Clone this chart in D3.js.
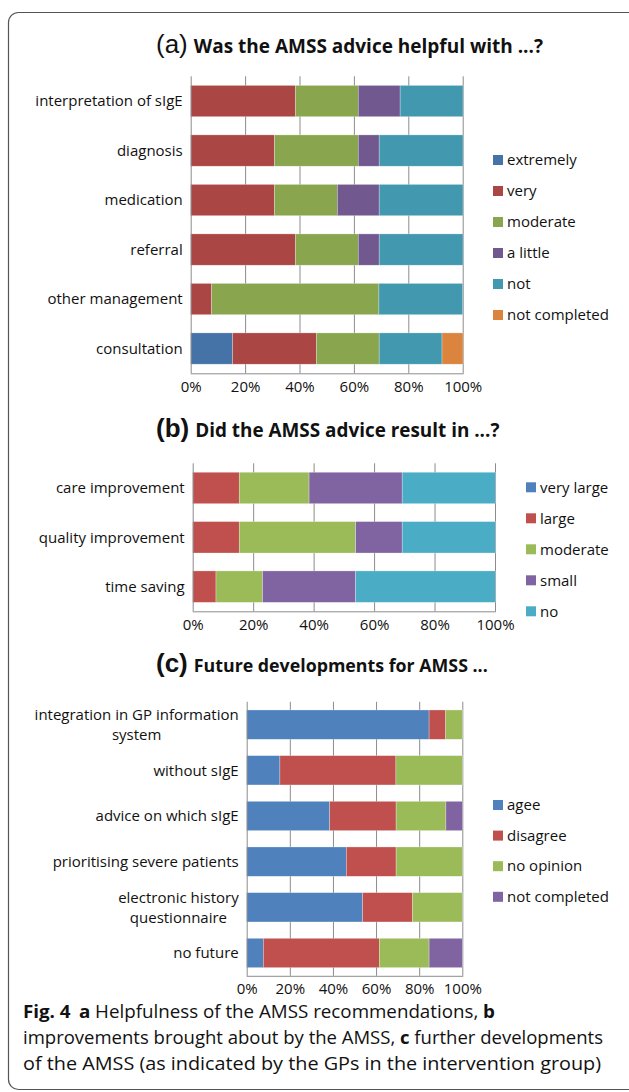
<!DOCTYPE html>
<html>
<head>
<meta charset="utf-8">
<script src="https://cdn.jsdelivr.net/npm/d3@7"></script>
<style>
  body { margin: 0; background: #fff; }
  text { font-family: "Open Sans", sans-serif; fill: #111; }
</style>
</head>
<body>
<svg id="chart" width="629" height="1092"></svg>
<script>
// panel (a)
const catsA = ["interpretation of sIgE", "diagnosis", "medication", "referral", "other management", "consultation"]
const keysA = ["extremely", "very", "moderate", "a little", "not", "not completed"]
const extremelyA = [0, 0, 0, 0, 0, 15.4]
const veryA = [38.5, 30.8, 30.8, 38.5, 7.7, 30.8]
const moderateA = [23.1, 30.8, 23.1, 23.1, 61.5, 23.1]
const littleA = [15.4, 7.7, 15.4, 7.7, 0, 0]
const notA = [23.1, 30.8, 30.8, 30.8, 30.8, 23.1]
const notCompletedA = [0, 0, 0, 0, 0, 7.7]

// panel (b)
const catsB = ["care improvement", "quality improvement", "time saving"]
const keysB = ["very large", "large", "moderate", "small", "no"]
const veryLargeB = [0, 0, 0]
const largeB = [15.4, 15.4, 7.7]
const moderateB = [23.1, 38.5, 15.4]
const smallB = [30.8, 15.4, 30.8]
const noB = [30.8, 30.8, 46.2]

// panel (c)
const catsC = ["integration in GP information\nsystem", "without sIgE", "advice on which sIgE",
  "prioritising severe patients", "electronic history\nquestionnaire", "no future"]
const keysC = ["agee", "disagree", "no opinion", "not completed"]
const agreeC = [84.6, 15.4, 38.5, 46.2, 53.8, 7.7]
const disagreeC = [7.7, 53.8, 30.8, 23.1, 23.1, 53.8]
const noOpinionC = [7.7, 30.8, 23.1, 30.8, 23.1, 23.1]
const notCompletedC = [0, 0, 7.7, 0, 0, 15.4]

const ticks = [0, 20, 40, 60, 80, 100]

const colorsA = ["#4572a7", "#aa4643", "#89a54e", "#71588f", "#4198af", "#db843d"]
const colorsBC = ["#4f81bd", "#c0504d", "#9bbb59", "#8064a2", "#4bacc6"]

const svg = d3.select("#chart")

// frame
svg.append("rect")
  .attr("x", 8.5).attr("y", 12.5)
  .attr("width", 640).attr("height", 1077)
  .attr("rx", 10)
  .attr("fill", "none")
  .attr("stroke", "#555")
  .attr("stroke-width", 1.2)

function drawPanel(p) {
  const rows = p.cats.map((c, i) => {
    const r = { cat: c }
    p.keys.forEach((k, j) => r[k] = p.series[j][i])
    return r
  })
  const stacked = d3.stack().keys(p.keys)(rows)

  const x = d3.scaleLinear().domain([0, 100]).range([p.x0, p.x1])
  const y = d3.scaleBand().domain(p.cats).range([p.y0, p.y1]).paddingInner(p.pad).paddingOuter(p.pad / 2)

  const g = svg.append("g")

  // gridlines
  g.selectAll(".grid").data(ticks.slice(1)).enter().append("line")
    .attr("x1", d => x(d) + 0.5).attr("x2", d => x(d) + 0.5)
    .attr("y1", p.y0).attr("y2", p.y1)
    .attr("stroke", "#8c8c8c").attr("stroke-width", 1)

  // bars
  g.selectAll(".series").data(stacked).enter().append("g")
    .attr("fill", (d, i) => p.colors[i])
    .selectAll("rect").data(d => d).enter().append("rect")
    .attr("x", d => x(d[0]))
    .attr("width", d => Math.max(0, x(d[1]) - x(d[0])))
    .attr("y", d => y(d.data.cat))
    .attr("height", y.bandwidth())
    .attr("stroke", "rgba(255,255,255,0.45)")
    .attr("stroke-width", 0.6)

  // axes lines
  g.append("line").attr("x1", p.x0 + 0.5).attr("x2", p.x0 + 0.5).attr("y1", p.y0).attr("y2", p.y1)
    .attr("stroke", "#8c8c8c")
  g.append("line").attr("x1", p.x0).attr("x2", p.x1 + 1).attr("y1", p.y1 + 0.5).attr("y2", p.y1 + 0.5)
    .attr("stroke", "#8c8c8c")

  // tick labels
  const ax = d3.axisBottom(x).tickValues(ticks).tickSize(0).tickPadding(8).tickFormat(d => d + "%")
  const axg = g.append("g").attr("transform", `translate(0,${p.y1})`).call(ax)
  axg.select(".domain").remove()
  axg.selectAll("text").attr("font-size", 15).attr("font-family", "Open Sans").attr("fill", "#111")

  // category labels
  p.cats.forEach(c => {
    const lines = c.split("\n")
    const cy = y(c) + y.bandwidth() / 2
    const t = g.append("text")
      .attr("font-size", 15)
      .attr("text-anchor", lines.length > 1 ? "middle" : "end")
    if (lines.length === 1) {
      t.attr("x", p.x0 - 8).attr("y", cy).attr("dy", "0.35em").text(c)
    } else {
      // centre the wrapped lines under each other, block right aligned
      const tmp = g.append("text").attr("font-size", 15).text(lines[0])
      const w = tmp.node().getComputedTextLength()
      tmp.remove()
      const cx = p.x0 - 8 - w / 2
      lines.forEach((l, i) => {
        t.append("tspan").attr("x", cx)
          .attr("y", cy + (i - (lines.length - 1) / 2) * 20)
          .attr("dy", "0.35em").text(l)
      })
    }
  })

  // legend
  const lg = g.append("g")
  p.keys.forEach((k, i) => {
    const ly = p.legY + i * p.legStep
    lg.append("rect").attr("x", p.legX).attr("y", ly - 5).attr("width", 10).attr("height", 10)
      .attr("fill", p.colors[i])
    lg.append("text").attr("x", p.legX + 14).attr("y", ly).attr("dy", "0.35em")
      .attr("font-size", 15).text(k)
  })

  // title
  const tt = svg.append("text").attr("x", 156).attr("y", p.titleY)
  tt.append("tspan").attr("font-family", "Arimo, 'Liberation Sans', Arial, sans-serif")
    .attr("font-size", 26).attr("font-weight", p.letterBold ? "bold" : "normal").text(p.letter)
  tt.append("tspan").attr("font-size", p.titleSize).attr("font-weight", "bold").attr("dx", 6).text(p.title)
}

drawPanel({
  cats: catsA, keys: keysA, colors: colorsA,
  series: [extremelyA, veryA, moderateA, littleA, notA, notCompletedA],
  x0: 190.7, x1: 462.7, y0: 76.3, y1: 373.3, pad: 0.368,
  legX: 493, legY: 160, legStep: 31,
  letter: "(a)", letterBold: false, title: "Was the AMSS advice helpful with ...?", titleY: 53, titleSize: 19
})

drawPanel({
  cats: catsB, keys: keysB, colors: colorsBC,
  series: [veryLargeB, largeB, moderateB, smallB, noB],
  x0: 192.7, x1: 495, y0: 463.3, y1: 611.3, pad: 0.363,
  legX: 526, legY: 487.3, legStep: 31,
  letter: "(b)", letterBold: true, title: "Did the AMSS advice result in ...?", titleY: 437, titleSize: 18.9
})

drawPanel({
  cats: catsC, keys: keysC, colors: colorsBC,
  series: [agreeC, disagreeC, noOpinionC, notCompletedC],
  x0: 246.7, x1: 462.3, y0: 701.8, y1: 975.8, pad: 0.358,
  legX: 493, legY: 805, legStep: 30.6,
  letter: "(c)", letterBold: true, title: "Future developments for AMSS ...", titleY: 672, titleSize: 17.8
})

// caption
const cap = svg.append("g").attr("font-size", 18)
const l1 = cap.append("text").attr("x", 23).attr("y", 1018)
  .attr("textLength", 472).attr("lengthAdjust", "spacingAndGlyphs")
l1.append("tspan").attr("font-weight", "bold").text("Fig. 4")
l1.append("tspan").attr("font-weight", "bold").attr("dx", 8).text("a")
l1.append("tspan").text(" Helpfulness of the AMSS recommendations, ")
l1.append("tspan").attr("font-weight", "bold").text("b")
const l2 = cap.append("text").attr("x", 23).attr("y", 1044)
  .attr("textLength", 580).attr("lengthAdjust", "spacingAndGlyphs")
l2.append("tspan").text("improvements brought about by the AMSS, ")
l2.append("tspan").attr("font-weight", "bold").text("c")
l2.append("tspan").text(" further developments")
cap.append("text").attr("x", 23).attr("y", 1070)
  .attr("textLength", 578).attr("lengthAdjust", "spacingAndGlyphs")
  .text("of the AMSS (as indicated by the GPs in the intervention group)")
</script>
</body>
</html>
